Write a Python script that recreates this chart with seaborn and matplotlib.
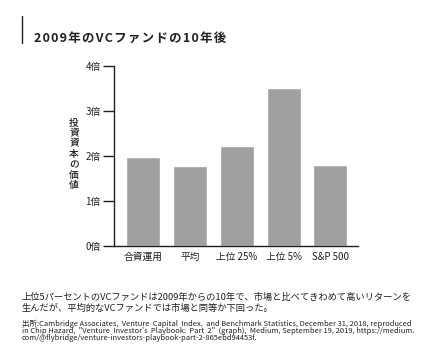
import matplotlib
matplotlib.use("Agg")
import matplotlib.pyplot as plt
import seaborn as sns
import pandas as pd
from matplotlib.lines import Line2D

# data
categories = ["合資運用", "平均", "上位 25%", "上位 5%", "S&P 500"]
multiples = [1.98, 1.78, 2.22, 3.51, 1.80]
y_ticks = [0, 1, 2, 3, 4]
y_tick_labels = ["0倍", "1倍", "2倍", "3倍", "4倍"]

title = "2009年のVCファンドの10年後"
y_label = "投資資本の価値"
caption = ["上位5パーセントのVCファンドは2009年からの10年で、市場と比べてきわめて高いリターンを",
           "生んだが、平均的なVCファンドでは市場と同等か下回った。"]
source = ["出所:Cambridge Associates,  Venture  Capital  Index,  and Benchmark Statistics, December 31, 2018, reproduced",
          "in Chip Hazard,  \"Venture  Investor's  Playbook:  Part  2\"  (graph),  Medium, September 19, 2019, https://medium.",
          "com/@flybridge/venture-investors-playbook-part-2-865ebd94453f."]

sns.set_style("white")
plt.rcParams["font.family"] = ["Noto Sans CJK JP", "DejaVu Sans"]
ink = "#231f20"

df = pd.DataFrame({"category": categories, "value": multiples})

fig = plt.figure(figsize=(4.27, 3.57), dpi=100)
ax = fig.add_axes([114 / 427, 1 - 246 / 357, 244 / 427, 180 / 357])
sns.barplot(data=df, x="category", y="value", order=categories,
            color="#a0a0a0", width=0.725, saturation=1, ax=ax)

ax.set_xlim(-0.62, 4.59)
ax.set_ylim(0, 4)
ax.set_yticks(y_ticks)
ax.set_yticklabels(y_tick_labels, fontsize=7, color=ink)
ax.set_xticklabels(categories, fontsize=7, color=ink)
ax.set_xlabel("")
ax.set_ylabel("")
ax.tick_params(axis="y", length=8, width=1, color=ink, pad=1.5, left=True)
ax.tick_params(axis="x", length=0, pad=4)
for side in ["top", "right"]:
    ax.spines[side].set_visible(False)
for side in ["left", "bottom"]:
    ax.spines[side].set_color(ink)
    ax.spines[side].set_linewidth(1)

# stacked vertical axis label
fig.text(74 / 427, 1 - 154 / 357, "\n".join(y_label), ha="center",
         va="center", fontsize=7, fontweight="medium", color=ink,
         linespacing=1.05)

# title with a bar on its left
fig.add_artist(Line2D([21.7 / 427, 21.7 / 427], [1 - 16 / 357, 1 - 43 / 357],
                      color=ink, linewidth=1))
fig.text(34 / 427, 1 - 38 / 357, "\u200a".join(title), ha="left",
         va="center", fontsize=9, fontweight="bold", color=ink)

for i, line in enumerate(caption):
    fig.text(22 / 427, 1 - (297 + 11.7 * i) / 357, line, ha="left",
             va="center", fontsize=6.7, color=ink)
for i, line in enumerate(source):
    fig.text(22 / 427, 1 - (323.5 + 7.4 * i) / 357, line, ha="left",
             va="center", fontsize=5.4, color=ink)

fig.savefig("out.png", dpi=100)
